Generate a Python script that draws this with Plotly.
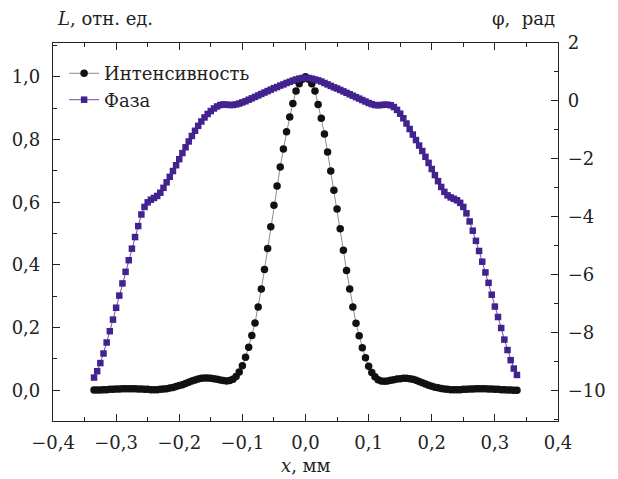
import plotly.graph_objects as go

x_mm = [
    -0.335, -0.330, -0.325, -0.320, -0.315, -0.310, -0.305, -0.300, -0.295, -0.290,
    -0.285, -0.280, -0.275, -0.270, -0.265, -0.260, -0.255, -0.250, -0.245, -0.240,
    -0.235, -0.230, -0.225, -0.220, -0.215, -0.210, -0.205, -0.200, -0.195, -0.190,
    -0.185, -0.180, -0.175, -0.170, -0.165, -0.160, -0.155, -0.150, -0.145, -0.140,
    -0.135, -0.130, -0.125, -0.120, -0.115, -0.110, -0.105, -0.100, -0.095, -0.090,
    -0.085, -0.080, -0.075, -0.070, -0.065, -0.060, -0.055, -0.050, -0.045, -0.040,
    -0.035, -0.030, -0.025, -0.020, -0.015, -0.010, -0.005,
    0.000,
    0.005, 0.010, 0.015, 0.020, 0.025, 0.030, 0.035, 0.040, 0.045, 0.050,
    0.055, 0.060, 0.065, 0.070, 0.075, 0.080, 0.085, 0.090, 0.095, 0.100,
    0.105, 0.110, 0.115, 0.120, 0.125, 0.130, 0.135, 0.140, 0.145, 0.150,
    0.155, 0.160, 0.165, 0.170, 0.175, 0.180, 0.185, 0.190, 0.195, 0.200,
    0.205, 0.210, 0.215, 0.220, 0.225, 0.230, 0.235, 0.240, 0.245, 0.250,
    0.255, 0.260, 0.265, 0.270, 0.275, 0.280, 0.285, 0.290, 0.295, 0.300,
    0.305, 0.310, 0.315, 0.320, 0.325, 0.330, 0.335,
]

intensity = [
    0.001, 0.001, 0.001, 0.002, 0.002, 0.003, 0.003, 0.004, 0.004, 0.005,
    0.005, 0.005, 0.005, 0.005, 0.004, 0.004, 0.003, 0.003, 0.002, 0.002,
    0.002, 0.003, 0.004, 0.005, 0.007, 0.009, 0.012, 0.015, 0.018, 0.022,
    0.026, 0.030, 0.033, 0.036, 0.038, 0.039, 0.039, 0.038, 0.037, 0.035,
    0.033, 0.031, 0.030, 0.031, 0.035, 0.044, 0.058, 0.078, 0.105, 0.137,
    0.175, 0.215, 0.266, 0.323, 0.385, 0.452, 0.522, 0.590, 0.652, 0.712,
    0.770, 0.825, 0.872, 0.915, 0.955, 0.978, 0.992,
    1.000,
    0.992, 0.978, 0.955, 0.912, 0.868, 0.818, 0.760, 0.700, 0.638, 0.578,
    0.515, 0.447, 0.382, 0.323, 0.266, 0.214, 0.174, 0.136, 0.104, 0.077,
    0.057, 0.043, 0.034, 0.030, 0.029, 0.030, 0.032, 0.034, 0.036, 0.037,
    0.038, 0.038, 0.037, 0.035, 0.032, 0.028, 0.024, 0.020, 0.016, 0.013,
    0.010, 0.008, 0.006, 0.004, 0.003, 0.002, 0.002, 0.002, 0.002, 0.003,
    0.003, 0.004, 0.004, 0.005, 0.005, 0.005, 0.005, 0.004, 0.004, 0.003,
    0.003, 0.002, 0.002, 0.001, 0.001, 0.000, 0.000,
]

phase_rad = [
    -9.55, -9.33, -9.05, -8.72, -8.34, -7.95, -7.55, -7.14, -6.72, -6.30,
    -5.90, -5.50, -5.10, -4.70, -4.32, -3.92, -3.66, -3.50, -3.41, -3.35,
    -3.28, -3.17, -3.00, -2.81, -2.62, -2.42, -2.22, -2.01, -1.80, -1.60,
    -1.40, -1.21, -1.03, -0.86, -0.71, -0.57, -0.45, -0.35, -0.26, -0.19,
    -0.14, -0.12, -0.13, -0.14, -0.14, -0.12, -0.09, -0.05, -0.01, 0.04,
    0.09, 0.14, 0.19, 0.24, 0.29, 0.34, 0.39, 0.44, 0.48, 0.53,
    0.57, 0.62, 0.66, 0.70, 0.74, 0.77, 0.79,
    0.80,
    0.79, 0.77, 0.74, 0.71, 0.67, 0.62, 0.57, 0.52, 0.47, 0.43,
    0.38, 0.33, 0.28, 0.23, 0.18, 0.13, 0.08, 0.03, -0.02, -0.07,
    -0.11, -0.14, -0.15, -0.14, -0.13, -0.13, -0.15, -0.21, -0.31, -0.44,
    -0.60, -0.78, -0.97, -1.16, -1.35, -1.54, -1.73, -1.93, -2.14, -2.35,
    -2.56, -2.77, -2.97, -3.14, -3.26, -3.33, -3.38, -3.43, -3.52, -3.66,
    -3.88, -4.16, -4.48, -4.83, -5.18, -5.55, -5.92, -6.28, -6.69, -7.10,
    -7.46, -7.84, -8.24, -8.60, -8.95, -9.24, -9.46,
]

series_names = ["Интенсивность", "Фаза"]
x_ticks = [-0.4, -0.3, -0.2, -0.1, 0.0, 0.1, 0.2, 0.3, 0.4]
y_ticks = [0.0, 0.2, 0.4, 0.6, 0.8, 1.0]
y2_ticks = [-10, -8, -6, -4, -2, 0, 2]

assert len(x_mm) == len(intensity) == len(phase_rad)

FONT = "DejaVu Serif"
FS = 18
PURPLE = "#42228f"
TXT = "#222222"

fig = go.Figure()
fig.add_trace(go.Scatter(
    x=x_mm, y=intensity, name=series_names[0], mode="lines+markers",
    line=dict(color="#707070", width=0.8),
    marker=dict(symbol="circle", size=7.5, color="#111111"),
    yaxis="y",
))
fig.add_trace(go.Scatter(
    x=x_mm, y=phase_rad, name=series_names[1], mode="lines+markers",
    line=dict(color=PURPLE, width=0.8),
    marker=dict(symbol="square", size=6.5, color=PURPLE),
    yaxis="y2",
))

fig.update_layout(
    width=618, height=479,
    margin=dict(l=53, r=51, t=43, b=58),
    paper_bgcolor="white", plot_bgcolor="white",
    separators=", ",
    font=dict(family=FONT, size=FS, color=TXT),
    showlegend=True,
    legend=dict(
        x=0.022, y=0.968, xanchor="left", yanchor="top",
        bgcolor="rgba(0,0,0,0)", borderwidth=0,
        font=dict(family=FONT, size=FS, color=TXT),
        tracegroupgap=0, itemwidth=30,
    ),
    xaxis=dict(
        range=[-0.4, 0.4], tickvals=x_ticks, tickformat=".1f",
        ticks="inside", ticklen=7, tickwidth=1, tickcolor="#222",
        showline=True, linecolor="#222", linewidth=1.2, mirror="ticks",
        showgrid=False, zeroline=False,
        minor=dict(ticks="inside", dtick=0.05, ticklen=4, tickcolor="#222", showgrid=False),
        ticklabelstandoff=5,
    ),
    yaxis=dict(
        range=[-0.098, 1.108], tickvals=y_ticks, tickformat=".1f",
        ticks="inside", ticklen=7, tickwidth=1, tickcolor="#222",
        showline=True, linecolor="#222", linewidth=1.2,
        showgrid=False, zeroline=False,
        minor=dict(ticks="inside", dtick=0.1, tick0=0.1, ticklen=4, tickcolor="#222", showgrid=False),
        ticklabelstandoff=8,
    ),
    yaxis2=dict(
        range=[-11.05, 2.0], tickvals=y2_ticks, overlaying="y", side="right",
        ticks="inside", ticklen=7, tickwidth=1, tickcolor="#222",
        showline=True, linecolor="#222", linewidth=1.2,
        showgrid=False, zeroline=False,
        minor=dict(ticks="inside", dtick=2, tick0=1, ticklen=4, tickcolor="#222", showgrid=False),
        ticklabelstandoff=5,
    ),
    annotations=[
        dict(text="<i>L</i>, отн. ед.", xref="paper", yref="paper", x=0.003, y=1.0,
             xanchor="left", yanchor="bottom", yshift=12, showarrow=False,
             font=dict(family=FONT, size=FS, color=TXT)),
        dict(text="φ,  рад", xref="paper", yref="paper", x=1.0, y=1.0,
             xanchor="right", yanchor="bottom", yshift=12, xshift=-1, showarrow=False,
             font=dict(family=FONT, size=FS, color=TXT)),
        dict(text="<i>x</i>, мм", xref="paper", yref="paper", x=0.5, y=0.0,
             xanchor="center", yanchor="top", yshift=-32, showarrow=False,
             font=dict(family=FONT, size=FS, color=TXT)),
    ],
)

fig.write_html(
    "out.html",
    config={"displayModeBar": False},
    post_script="document.body.style.margin='0';document.body.style.padding='0';",
)
